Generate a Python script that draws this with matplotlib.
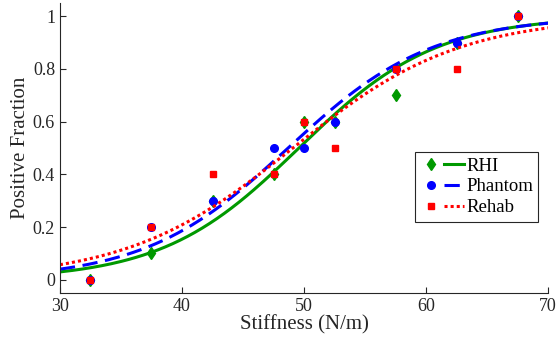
import numpy as np
import matplotlib.pyplot as plt
from matplotlib.legend_handler import HandlerTuple

plt.rcParams['font.family'] = ['Liberation Serif', 'DejaVu Serif']

# stiffness levels (N/m)
stiffness = [32.5, 37.5, 42.5, 47.5, 50, 52.5, 57.5, 62.5, 67.5]

# fraction of positive responses per condition
rhi = [0, 0.1, 0.3, 0.4, 0.6, 0.6, 0.7, 0.9, 1.0]
phantom = [0, 0.2, 0.3, 0.5, 0.5, 0.6, 0.8, 0.9, 1.0]
rehab = [0, 0.2, 0.4, 0.4, 0.6, 0.5, 0.8, 0.8, 1.0]

n_trials = 10


# logistic fit (binomial, IRLS) to get the psychometric curves
def fit_logistic(x, p, n):
    x = np.asarray(x, float)
    p = np.asarray(p, float)
    X = np.column_stack([np.ones_like(x), x])
    b = np.array([-10.0, 0.2])
    for _ in range(100):
        mu = 1 / (1 + np.exp(-X @ b))
        w = n * mu * (1 - mu)
        g = X.T @ (n * (p - mu))
        H = X.T @ (X * w[:, None])
        b = b + np.linalg.solve(H, g)
    return b


xs = np.linspace(30, 70, 200)
fig, ax = plt.subplots(figsize=(5.6, 3.45), dpi=100)

green = (0, 0.6, 0)
series = [
    ('RHI', rhi, green, 'd', '-', 6),
    ('Phantom', phantom, 'blue', 'o', (0, (5, 2.5)), 5.5),
    ('Rehab', rehab, 'red', 's', (0, (1, 1)), 4.5),
]

handles = []
labels = []
for name, vals, col, mk, ls, ms in series:
    b = fit_logistic(stiffness, vals, n_trials)
    curve = 1 / (1 + np.exp(-(b[0] + b[1] * xs)))
    pts, = ax.plot(stiffness, vals, linestyle='none', marker=mk, color=col,
                   markersize=ms)
    ln, = ax.plot(xs, curve, linestyle=ls, color=col, linewidth=2.2)
    handles.append((pts, ln))
    labels.append(name)

ax.set_xlim(30, 70)
ax.set_ylim(-0.05, 1.05)
ax.set_xticks([30, 40, 50, 60, 70])
ax.set_yticks([0, 0.2, 0.4, 0.6, 0.8, 1])
ax.set_yticklabels(['0', '0.2', '0.4', '0.6', '0.8', '1'])
ax.tick_params(direction='in', labelsize=13, length=4, color='#262626',
               labelcolor='#262626')
for s in ['top', 'right']:
    ax.spines[s].set_visible(False)
for s in ['left', 'bottom']:
    ax.spines[s].set_color('#262626')
    ax.spines[s].set_linewidth(0.8)

ax.set_xlabel('Stiffness (N/m)', fontsize=15, color='#262626', labelpad=0)
ax.set_ylabel('Positive Fraction', fontsize=15, color='#262626', labelpad=2)

leg = ax.legend(handles, labels, handler_map={tuple: HandlerTuple(ndivide=None, pad=0.2)},
                loc='lower right', bbox_to_anchor=(0.98, 0.245), fontsize=13.5,
                handlelength=2.3, fancybox=False, framealpha=1, edgecolor='#262626',
                borderpad=0.3, labelspacing=0.2, handletextpad=0.1, borderaxespad=0)
leg.get_frame().set_linewidth(0.8)

fig.subplots_adjust(left=0.107, right=0.979, bottom=0.151, top=0.991)
fig.savefig('out.png', dpi=100)
